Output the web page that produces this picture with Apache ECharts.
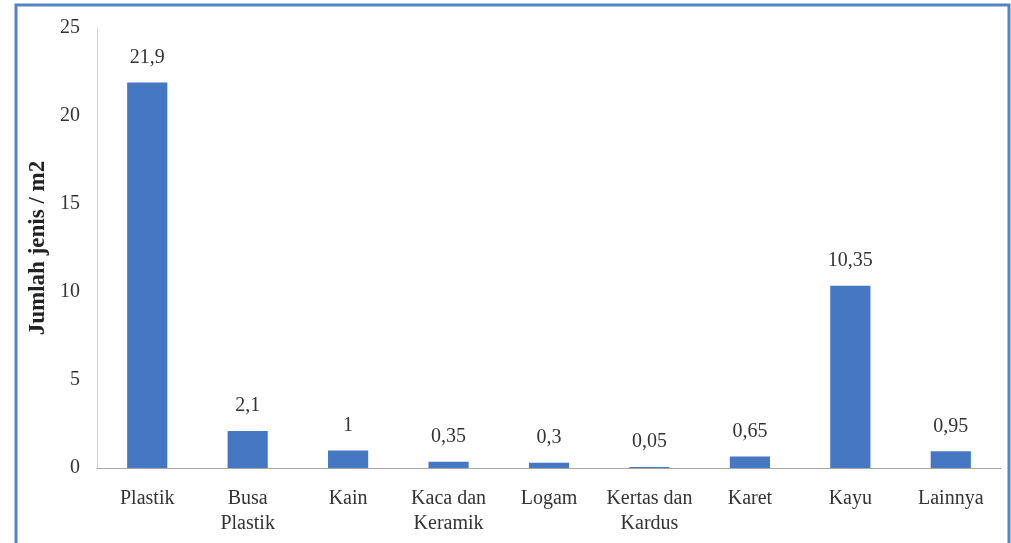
<!DOCTYPE html>
<html><head><meta charset="utf-8">
<script src="https://cdn.jsdelivr.net/npm/echarts@6/dist/echarts.min.js"></script>
<style>html,body{margin:0;padding:0;background:#fff}#c{width:1011px;height:543px}</style>
</head><body><div id="c"></div>
<script>
const categories = ['Plastik', 'Busa\nPlastik', 'Kain', 'Kaca dan\nKeramik', 'Logam', 'Kertas dan\nKardus', 'Karet', 'Kayu', 'Lainnya'];
const values = [21.9, 2.1, 1, 0.35, 0.3, 0.05, 0.65, 10.35, 0.95];
const yTicks = [0, 5, 10, 15, 20, 25];
const yTitle = 'Jumlah jenis / m2';

const chart = echarts.init(document.getElementById('c'));
const font = 'Liberation Serif, Times New Roman, serif';
chart.setOption({
  animation: false,
  graphic: [{type: 'rect', shape: {x: 16, y: 5, width: 993, height: 600}, style: {fill: 'none', stroke: '#5383c3', lineWidth: 3}}],
  grid: {left: 97, right: 10, top: 28, bottom: 75},
  xAxis: {
    type: 'category', data: categories,
    axisLine: {lineStyle: {color: '#a6a6a6', width: 1}},
    axisTick: {show: false},
    axisLabel: {fontFamily: font, fontSize: 20, color: '#333', margin: 18, lineHeight: 25, interval: 0}
  },
  yAxis: {
    type: 'value', min: yTicks[0], max: yTicks[yTicks.length - 1], interval: 5,
    name: yTitle, nameLocation: 'middle', nameGap: 45,
    nameTextStyle: {fontFamily: font, fontSize: 23, fontWeight: 'bold', color: '#222'},
    axisLine: {show: true, lineStyle: {color: '#d0d0d0', width: 1}},
    axisTick: {show: false},
    splitLine: {show: false},
    axisLabel: {fontFamily: font, fontSize: 20, color: '#333', margin: 17}
  },
  series: [{
    type: 'bar', data: values, barWidth: '40%',
    itemStyle: {color: '#4677c3'},
    label: {show: true, position: 'top', distance: 15, fontFamily: font, fontSize: 20, color: '#333',
      formatter: p => String(p.value).replace('.', ',')}
  }]
});
</script></body></html>
